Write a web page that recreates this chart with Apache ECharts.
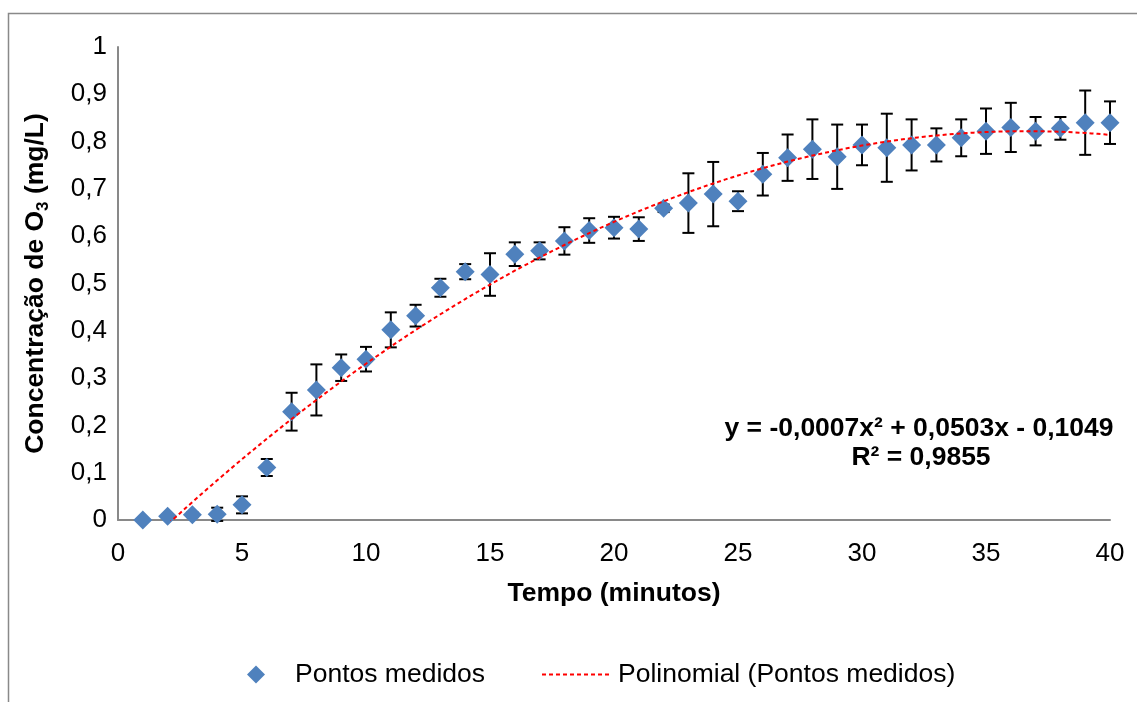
<!DOCTYPE html>
<html>
<head>
<meta charset="utf-8">
<title>Concentração de O3</title>
<script src="https://cdn.jsdelivr.net/npm/echarts@6/dist/echarts.min.js"></script>
<style>
  html, body { margin: 0; padding: 0; background: #fff; }
  #grafico { width: 1137px; height: 702px; }
</style>
</head>
<body>
<!-- area do grafico -->
<div id="grafico"></div>
<script>
// tempo (minutos)
var minutos = [1, 2, 3, 4, 5, 6, 7, 8, 9, 10, 11, 12, 13, 14, 15, 16, 17, 18, 19, 20,
  21, 22, 23, 24, 25, 26, 27, 28, 29, 30, 31, 32, 33, 34, 35, 36, 37, 38, 39, 40]
// pontos medidos (mg/L)
var concentracao = [0.000, 0.008, 0.011, 0.012, 0.032, 0.111, 0.229, 0.275, 0.322, 0.340,
  0.402, 0.432, 0.491, 0.525, 0.519, 0.562, 0.569, 0.590, 0.612, 0.618,
  0.615, 0.659, 0.670, 0.689, 0.674, 0.731, 0.766, 0.784, 0.768, 0.793,
  0.787, 0.793, 0.793, 0.808, 0.822, 0.830, 0.822, 0.828, 0.840, 0.840]
// barras de erro (+/-)
var desvio = [0.000, 0.003, 0.005, 0.014, 0.018, 0.018, 0.040, 0.054, 0.028, 0.026,
  0.037, 0.023, 0.019, 0.016, 0.045, 0.025, 0.018, 0.029, 0.026, 0.023,
  0.025, 0.008, 0.063, 0.068, 0.021, 0.045, 0.049, 0.063, 0.068, 0.043,
  0.072, 0.054, 0.035, 0.039, 0.048, 0.052, 0.030, 0.024, 0.068, 0.045]
var equacao = 'y = -0,0007x² + 0,0503x - 0,1049'
var r2 = 'R² = 0,9855'

var fonte = "'Liberation Sans', Arial, sans-serif"

// ajuste polinomial de 2a ordem (minimos quadrados), como a linha de tendencia do Excel
function ajustePolinomial (xs, ys) {
  var s = [0, 0, 0, 0, 0]
  var t = [0, 0, 0]
  for (var i = 0; i < xs.length; i++) {
    for (var k = 0; k < 5; k++) s[k] += Math.pow(xs[i], k)
    for (var j = 0; j < 3; j++) t[j] += ys[i] * Math.pow(xs[i], j)
  }
  var m = [[s[0], s[1], s[2], t[0]], [s[1], s[2], s[3], t[1]], [s[2], s[3], s[4], t[2]]]
  for (var c = 0; c < 3; c++) {
    for (var r = c + 1; r < 3; r++) {
      var f = m[r][c] / m[c][c]
      for (var q = c; q < 4; q++) m[r][q] -= f * m[c][q]
    }
  }
  var coef = [0, 0, 0]
  for (var l = 2; l >= 0; l--) {
    var soma = m[l][3]
    for (var q2 = l + 1; q2 < 3; q2++) soma -= m[l][q2] * coef[q2]
    coef[l] = soma / m[l][l]
  }
  return coef
}

var coef = ajustePolinomial(minutos, concentracao)
var tendencia = []
for (var x = minutos[0]; x <= minutos[minutos.length - 1] + 1e-9; x += 0.25) {
  tendencia.push([x, coef[0] + coef[1] * x + coef[2] * x * x])
}

var pontos = minutos.map(function (m, i) { return [m, concentracao[i]] })
var erros = minutos.map(function (m, i) { return [m, concentracao[i] - desvio[i], concentracao[i] + desvio[i]] })

var chart = echarts.init(document.getElementById('grafico'))
var option = {
  backgroundColor: '#fff',
  animation: false,
  textStyle: { fontFamily: fonte },
  grid: { left: 118, right: 27, top: 47, bottom: 182 },
  xAxis: {
    type: 'value',
    min: 0,
    max: 40,
    interval: 5,
    name: 'Tempo (minutos)',
    nameLocation: 'middle',
    nameGap: 60,
    nameTextStyle: { fontSize: 26.5, fontWeight: 'bold', color: '#000', fontFamily: fonte },
    axisLine: { lineStyle: { color: '#898989', width: 2 } },
    axisTick: { show: false },
    splitLine: { show: false },
    axisLabel: { fontSize: 26, color: '#000', margin: 21, fontFamily: fonte }
  },
  yAxis: {
    type: 'value',
    min: 0,
    max: 1,
    interval: 0.1,
    name: '{a|Concentração de O}{s|3}{a| (mg/L)}',
    nameLocation: 'middle',
    nameRotate: 90,
    nameGap: 66,
    nameTextStyle: {
      rich: {
        a: { fontSize: 26.5, fontWeight: 'bold', color: '#000', fontFamily: fonte, lineHeight: 32 },
        s: { fontSize: 17, fontWeight: 'bold', color: '#000', fontFamily: fonte, lineHeight: 32, verticalAlign: 'bottom' }
      }
    },
    axisLine: { show: true, lineStyle: { color: '#898989', width: 2 } },
    axisTick: { show: false },
    splitLine: { show: false },
    axisLabel: {
      fontSize: 26,
      color: '#000',
      margin: 11,
      fontFamily: fonte,
      formatter: function (v) { return String(+v.toFixed(1)).replace('.', ',') }
    }
  },
  legend: [{
    data: ['Pontos medidos'],
    left: 242,
    top: 656,
    itemWidth: 18,
    itemHeight: 18,
    textStyle: { fontSize: 26.5, color: '#000', fontFamily: fonte, padding: [0, 0, 0, 25] }
  }, {
    data: ['Polinomial (Pontos medidos)'],
    left: 536,
    top: 656,
    itemWidth: 70,
    itemHeight: 18,
    // esconde o circulo do meio, fica so a linha tracejada
    itemStyle: { opacity: 0 },
    textStyle: { fontSize: 26.5, color: '#000', fontFamily: fonte, padding: [0, 0, 0, 1] }
  }],
  graphic: [{
    type: 'rect',
    silent: true,
    shape: { x: 8.5, y: 13.5, width: 1200, height: 800 },
    style: { fill: 'none', stroke: '#898989', lineWidth: 1.5 }
  }, {
    type: 'text',
    x: 919,
    y: 429,
    style: { text: equacao, font: 'bold 26.5px ' + fonte, fill: '#000', align: 'center', verticalAlign: 'middle' }
  }, {
    type: 'text',
    x: 921,
    y: 458,
    style: { text: r2, font: 'bold 26.5px ' + fonte, fill: '#000', align: 'center', verticalAlign: 'middle' }
  }],
  series: [{
    name: 'erro',
    type: 'custom',
    z: 2,
    data: erros,
    encode: { x: 0, y: [1, 2] },
    renderItem: function (params, api) {
      var x = api.value(0)
      var baixo = api.coord([x, api.value(1)])
      var alto = api.coord([x, api.value(2)])
      var meia = 6
      var estilo = { stroke: '#000', lineWidth: 2 }
      return {
        type: 'group',
        children: [
          { type: 'line', shape: { x1: alto[0], y1: alto[1], x2: baixo[0], y2: baixo[1] }, style: estilo },
          { type: 'line', shape: { x1: alto[0] - meia, y1: alto[1], x2: alto[0] + meia, y2: alto[1] }, style: estilo },
          { type: 'line', shape: { x1: baixo[0] - meia, y1: baixo[1], x2: baixo[0] + meia, y2: baixo[1] }, style: estilo }
        ]
      }
    }
  }, {
    name: 'Pontos medidos',
    type: 'scatter',
    z: 3,
    symbol: 'diamond',
    symbolSize: 19,
    itemStyle: { color: '#4F81BD', opacity: 1 },
    data: pontos
  }, {
    name: 'Polinomial (Pontos medidos)',
    type: 'line',
    z: 4,
    symbol: 'none',
    clip: true,
    color: '#FF0000',
    lineStyle: { color: '#FF0000', width: 2, type: [4, 3] },
    data: tendencia
  }]
}
chart.setOption(option)
window.addEventListener('resize', function () {
  chart.resize()
})
</script>
</body>
</html>
